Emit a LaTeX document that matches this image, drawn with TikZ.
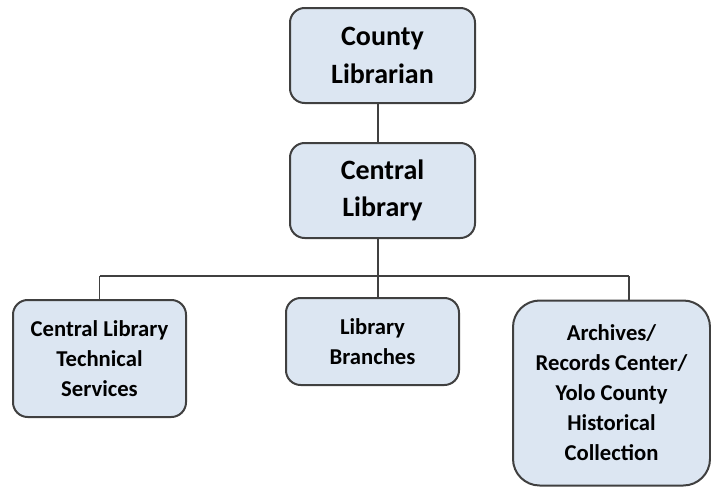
\documentclass[tikz,border=0pt]{standalone}
\usepackage{fontspec}
\setmainfont{Carlito}
\usetikzlibrary{calc}
\definecolor{boxfill}{HTML}{DCE6F2}
\definecolor{boxline}{HTML}{404040}
\tikzset{
  orgbox/.style={draw=boxline, line width=1.5pt, fill=boxfill, rounded corners=11pt,
    align=center, inner sep=0pt, font=\bfseries},
  bigtext/.style={font=\fontsize{21}{28}\selectfont\bfseries},
  smalltext/.style={font=\fontsize{17}{22.5}\selectfont\bfseries},
  link/.style={draw=boxline, line width=1pt}
}
\begin{document}
\begin{tikzpicture}[x=0.75pt,y=-0.75pt]
\useasboundingbox (0,0) rectangle (711,487);
\node[orgbox, bigtext, minimum width=138.75pt, minimum height=71.25pt] (top) at (382.5,55.5) {County\\Librarian};
\node[orgbox, bigtext, minimum width=138.75pt, minimum height=71.25pt] (central) at (382.5,190.5) {Central\\Library};
\node[orgbox, smalltext, minimum width=129.75pt, minimum height=87.75pt] (left) at (99.5,358.5) {Central Library\\Technical\\Services};
\node[orgbox, smalltext, minimum width=129.75pt, minimum height=65.25pt] (mid) at (372.5,341.5) {Library\\Branches};
\node[orgbox, smalltext, rounded corners=20pt, minimum width=147.75pt, minimum height=138.75pt] (right) at (611.5,393) {Archives/\\Records Center/\\Yolo County\\Historical\\Collection};
\coordinate (bus) at (378,276);
\coordinate (busL) at (99.5,276);
\coordinate (busR) at (629,276);
\draw[link] (top.south -| bus) -- (central.north -| bus);
\draw[link] (central.south -| bus) -- (bus);
\draw[link] (busL) -- (busR);
\draw[link] (busL) -- (left.north -| busL);
\draw[link] (bus) -- (mid.north -| bus);
\draw[link] (busR) -- (right.north -| busR);
\end{tikzpicture}
\end{document}
